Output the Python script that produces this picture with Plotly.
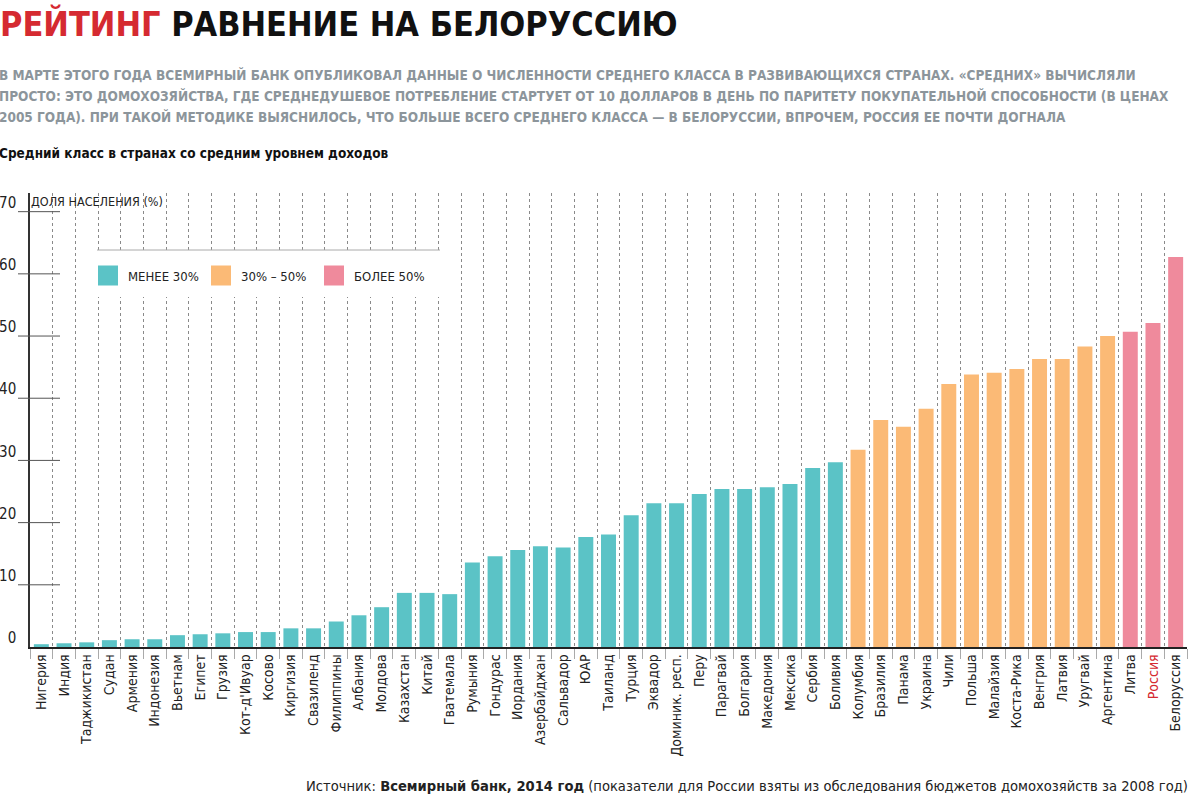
import plotly.graph_objects as go

# ---------------- data ----------------
countries_low = ["Нигерия", "Индия", "Таджикистан", "Судан", "Армения", "Индонезия", "Вьетнам",
                 "Египет", "Грузия", "Кот-д'Ивуар", "Косово", "Киргизия", "Свазиленд", "Филиппины",
                 "Албания", "Молдова", "Казахстан", "Китай", "Гватемала", "Румыния", "Гондурас",
                 "Иордания", "Азербайджан", "Сальвадор", "ЮАР", "Таиланд", "Турция", "Эквадор",
                 "Доминик. респ.", "Перу", "Парагвай", "Болгария", "Македония", "Мексика",
                 "Сербия", "Боливия"]
values_low = [0.45, 0.6, 0.75, 1.1, 1.25, 1.25, 1.9, 2.05, 2.2, 2.4, 2.4, 3.0, 3.0, 4.1,
              5.1, 6.4, 8.7, 8.7, 8.5, 13.6, 14.6, 15.6, 16.2, 16.0, 17.7, 18.1, 21.2, 23.1,
              23.1, 24.6, 25.4, 25.4, 25.7, 26.2, 28.8, 29.7]

countries_mid = ["Колумбия", "Бразилия", "Панама", "Украина", "Чили", "Польша", "Малайзия",
                 "Коста-Рика", "Венгрия", "Латвия", "Уругвай", "Аргентина"]
values_mid = [31.7, 36.5, 35.4, 38.3, 42.3, 43.8, 44.1, 44.7, 46.3, 46.3, 48.3, 50.0]

countries_high = ["Литва", "Россия", "Белоруссия"]
values_high = [50.7, 52.1, 62.7]

legend_labels = ["МЕНЕЕ 30%", "30% – 50%", "БОЛЕЕ 50%"]
y_ticks = [0, 10, 20, 30, 40, 50, 60, 70]

# ---------------- style ----------------
W, H = 1189, 795
ML, MR, MT, MB = 30, 2, 193, 148
PW, PH = W - ML - MR, H - MT - MB
NARROW = "'Liberation Sans Narrow', 'Arial Narrow', 'DejaVu Sans Condensed', 'Roboto Condensed', Roboto, sans-serif"
C_LOW, C_MID, C_HIGH = "#5BC3C6", "#FBBA76", "#EF8A9C"
RED = "#D52A31"


def px(xp, yp):
    return (xp - ML) / PW, (H - MB - yp) / PH


categories = countries_low + countries_mid + countries_high
ticktext = [f"<span style='color:{RED}'>{c}</span>" if c == "Россия" else c for c in categories]

fig = go.Figure()
for names, vals, col in [(countries_low, values_low, C_LOW),
                         (countries_mid, values_mid, C_MID),
                         (countries_high, values_high, C_HIGH)]:
    fig.add_trace(go.Bar(x=names, y=vals, marker=dict(color=col, line=dict(width=0)),
                         showlegend=False, hoverinfo="x+y"))

for lab, col in zip(legend_labels, [C_LOW, C_MID, C_HIGH]):
    fig.add_trace(go.Scatter(x=[None], y=[None], mode="markers", name=lab,
                             marker=dict(symbol="square", size=16, color=col,
                                         line=dict(color=col, width=4)),
                             showlegend=True))

annotations = []


def add_text(text, xp, yp, size, color="#111", xanchor="left", family=NARROW):
    x, y = px(xp, yp)
    annotations.append(dict(text=text, x=x, y=y, xref="paper", yref="paper",
                            xanchor=xanchor, yanchor="middle", showarrow=False,
                            font=dict(family=family, size=size, color=color)))


add_text(f"<b><span style='color:{RED}'>РЕЙТИНГ</span> РАВНЕНИЕ НА БЕЛОРУССИЮ</b>", -2, 24, 34)
GREY = "#8C959B"
add_text("<b>В МАРТЕ ЭТОГО ГОДА ВСЕМИРНЫЙ БАНК ОПУБЛИКОВАЛ ДАННЫЕ О ЧИСЛЕННОСТИ СРЕДНЕГО КЛАССА В РАЗВИВАЮЩИХСЯ СТРАНАХ. «СРЕДНИХ» ВЫЧИСЛЯЛИ</b>",
         -3, 75, 13.5, GREY)
add_text("<b>ПРОСТО: ЭТО ДОМОХОЗЯЙСТВА, ГДЕ СРЕДНЕДУШЕВОЕ ПОТРЕБЛЕНИЕ СТАРТУЕТ ОТ 10 ДОЛЛАРОВ В ДЕНЬ ПО ПАРИТЕТУ ПОКУПАТЕЛЬНОЙ СПОСОБНОСТИ (В ЦЕНАХ</b>",
         -3, 96, 13.5, GREY)
add_text("<b>2005 ГОДА). ПРИ ТАКОЙ МЕТОДИКЕ ВЫЯСНИЛОСЬ, ЧТО БОЛЬШЕ ВСЕГО СРЕДНЕГО КЛАССА — В БЕЛОРУССИИ, ВПРОЧЕМ, РОССИЯ ЕЕ ПОЧТИ ДОГНАЛА</b>",
         -3, 117, 13.5, GREY)
add_text("<b>Средний класс в странах со средним уровнем доходов</b>", -3, 153, 13.5)
add_text("ДОЛЯ НАСЕЛЕНИЯ (%)", 29, 201, 12.5, "#222")
add_text("Источник: <b>Всемирный банк, 2014 год</b> (показатели для России взяты из обследования бюджетов домохозяйств за 2008 год)",
         1190, 785, 14.6, "#222", xanchor="right")

shapes = []
# white panel behind the legend, with a grey rule on top
lx0, ly1 = px(97, 250)
lx1, ly0 = px(440, 297)
shapes.append(dict(type="rect", xref="paper", yref="paper", x0=lx0, x1=lx1, y0=ly0, y1=ly1,
                   fillcolor="white", line=dict(width=0), layer="above"))
shapes.append(dict(type="line", xref="paper", yref="paper", x0=lx0, x1=lx1, y0=ly1, y1=ly1,
                   line=dict(color="#AAAAAA", width=1), layer="above"))
# short tick rules crossing the y axis
tx0, _ = px(18, 0)
tx1, _ = px(60, 0)
for v in y_ticks[1:]:
    shapes.append(dict(type="line", xref="paper", yref="y", x0=tx0, x1=tx1, y0=v, y1=v,
                       line=dict(color="#555", width=1), layer="above"))

legx, legy = px(88, 275.5)

fig.update_layout(
    width=W, height=H,
    margin=dict(l=ML, r=MR, t=MT, b=MB, pad=0, autoexpand=False),
    paper_bgcolor="white", plot_bgcolor="white",
    barmode="overlay", bargap=0.34,
    font=dict(family=NARROW, color="#222"),
    annotations=annotations, shapes=shapes,
    legend=dict(orientation="h", x=legx, y=legy, xanchor="left", yanchor="middle",
                bgcolor="rgba(0,0,0,0)", font=dict(family=NARROW, size=13, color="#222"),
                itemclick=False, entrywidth=68),
    xaxis=dict(type="category", categoryorder="array", categoryarray=categories,
               tickmode="array", tickvals=categories, ticktext=ticktext,
               tickangle=-90, tickfont=dict(family=NARROW, size=14, color="#222"),
               range=[-0.5, len(categories) - 0.5], automargin=False,
               showgrid=True, griddash="dot", gridcolor="#8A8A8A", gridwidth=1,
               tickson="boundaries", ticks="outside", ticklen=10, tickcolor="#AAAAAA",
               showline=True, linecolor="#222", linewidth=1.5, zeroline=False,
               fixedrange=True),
    yaxis=dict(range=[0, 73], tickmode="array", tickvals=y_ticks, automargin=False,
               showgrid=False, zeroline=False, showline=True, linecolor="#333", linewidth=1.5,
               ticks="", tickfont=dict(family=NARROW, size=15, color="#222"),
               ticklabelshift=-9, ticklabelstandoff=9, fixedrange=True),
)

fig.write_html("out.html")
